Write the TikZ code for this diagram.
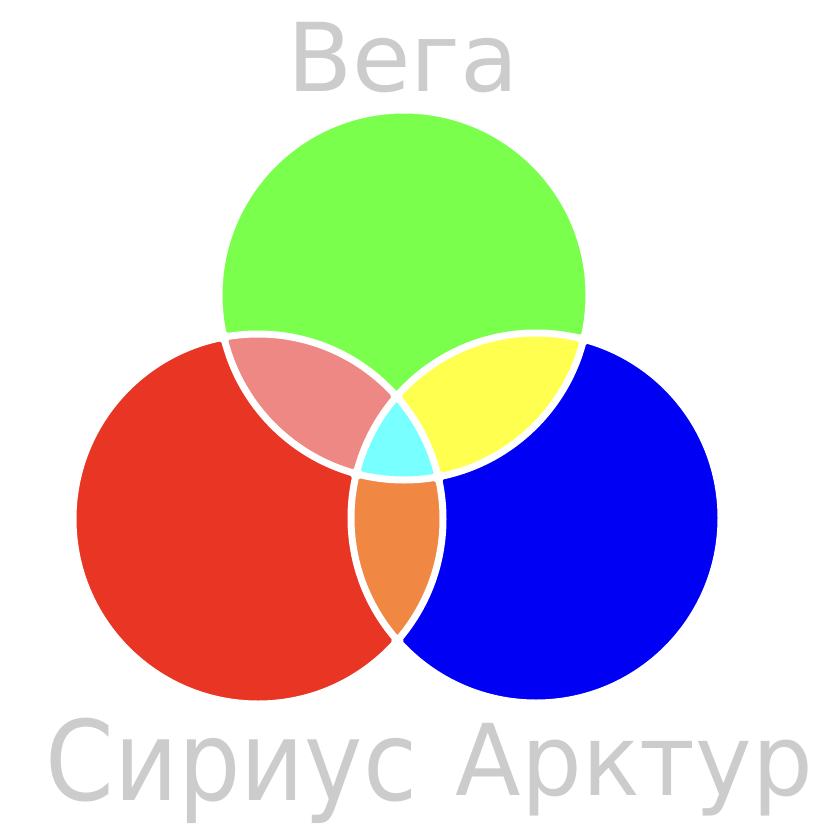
\documentclass[tikz,border=0pt]{standalone}
\usepackage{fontspec}
\usetikzlibrary{intersections}
\setmainfont{DejaVu Sans}
\definecolor{vgreen}{RGB}{122,255,77}
\definecolor{vred}{RGB}{233,53,36}
\definecolor{vblue}{RGB}{0,0,245}
\definecolor{vpink}{RGB}{238,136,132}
\definecolor{vyellow}{RGB}{255,255,80}
\definecolor{vorange}{RGB}{240,136,68}
\definecolor{vcyan}{RGB}{120,255,255}
\definecolor{lblgray}{RGB}{204,204,204}
\tikzset{
  lbl/.style={text=lblgray, inner sep=0pt, anchor=base},
  gapline/.style={draw=white, line width=7pt},
  junction/.style={fill=white}
}
\begin{document}
\begin{tikzpicture}[x=1pt,y=-1pt]
\useasboundingbox (0,0) rectangle (832,838);
\coordinate (G) at (404,295);
\coordinate (R) at (258,519);
\coordinate (B) at (536,518);
% base circles
\fill[vgreen] (G) circle (185pt);
\fill[vred] (R) circle (185pt);
\fill[vblue] (B) circle (185pt);
% pairwise intersections
\begin{scope}
  \clip (R) circle (185pt);
  \fill[vpink] (G) circle (185pt);
  \fill[vorange] (B) circle (185pt);
\end{scope}
\begin{scope}
  \clip (G) circle (185pt);
  \fill[vyellow] (B) circle (185pt);
\end{scope}
\begin{scope}
  \clip (R) circle (185pt);
  \clip (G) circle (185pt);
  \fill[vcyan] (B) circle (185pt);
\end{scope}
% white gaps
\draw[gapline, name path=cG] (G) circle (185pt);
\draw[gapline, name path=cR] (R) circle (185pt);
\draw[gapline, name path=cB] (B) circle (185pt);
% rounded junctions
\path[name intersections={of=cG and cR, name=gr}];
\path[name intersections={of=cG and cB, name=gb}];
\path[name intersections={of=cR and cB, name=rb}];
\foreach \p in {gr-1,gr-2,gb-1,gb-2,rb-1,rb-2}
  \fill[junction] (\p) circle (6pt);
% labels
\node[lbl, font=\fontsize{95}{95}\selectfont] (vega) at (403,91) {Вега};
\node[lbl, font=\fontsize{111}{111}\selectfont] (sirius) at (231.5,800) {\scalebox{0.887}[1]{Сириус}};
\node[lbl, font=\fontsize{99}{99}\selectfont] (arktur) at (634.5,795) {\scalebox{0.967}[1]{Арктур}};
\end{tikzpicture}
\end{document}
